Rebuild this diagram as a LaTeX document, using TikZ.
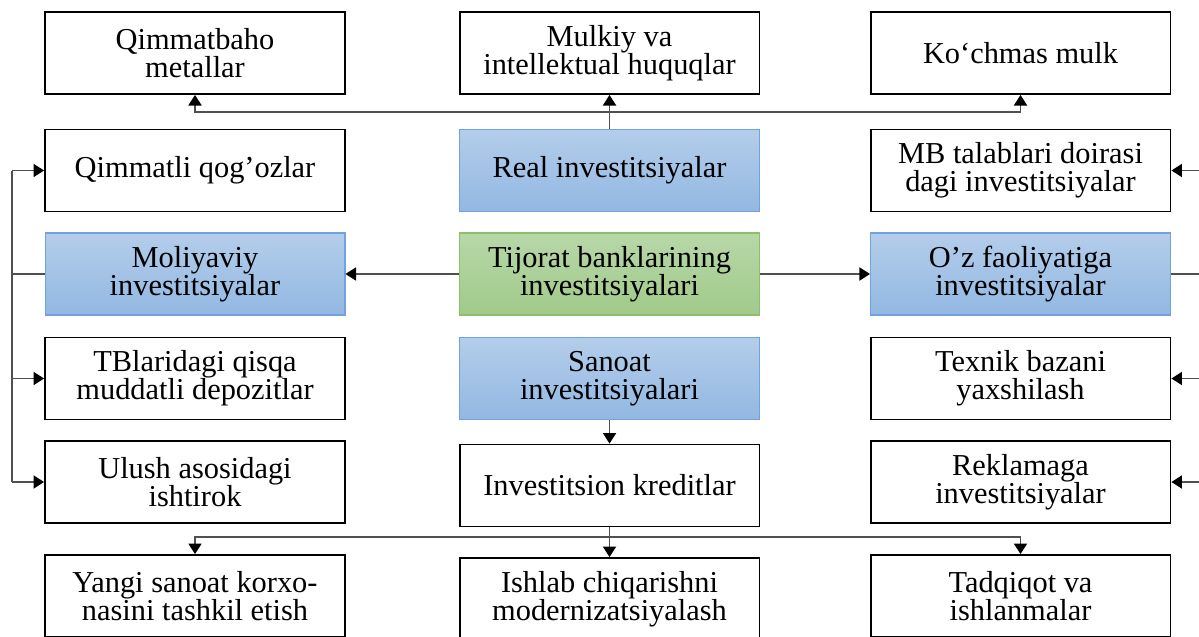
\documentclass[tikz,border=0pt]{standalone}
\usepackage{fontspec}
\setmainfont{Liberation Serif}
\usetikzlibrary{arrows.meta}
\definecolor{blueTop}{RGB}{180,205,234}
\definecolor{blueBot}{RGB}{146,184,226}
\definecolor{blueLine}{RGB}{112,162,222}
\definecolor{greenTop}{RGB}{184,215,168}
\definecolor{greenBot}{RGB}{160,202,138}
\definecolor{greenLine}{RGB}{140,190,108}
\definecolor{connGray}{RGB}{80,80,80}
\tikzset{
  box/.style={draw, line width=1.1pt, minimum width=6cm, minimum height=1.64cm,
    align=center, inner sep=0pt, font=\fontsize{17.3}{16}\selectfont},
  bluebox/.style={box, draw=blueLine, line width=0.6pt, top color=blueTop, bottom color=blueBot},
  greenbox/.style={box, draw=greenLine, line width=0.6pt, top color=greenTop, bottom color=greenBot},
  conn/.style={draw=connGray, line width=0.7pt},
  arr/.style={conn, -{Triangle[length=6pt,width=7.5pt,color=black,fill=black]}}
}
\begin{document}
\begin{tikzpicture}[x=0.02cm, y=-0.02cm]
  \clip (0,0) rectangle (1199,636);
  % top row
  \node[box] (qimb)  at (195,53)    {Qimmatbaho\\metallar};
  \node[box] (mulk)  at (609.5,53)  {Mulkiy va\\intellektual huquqlar};
  \node[box] (kochm) at (1020.5,53) {Ko‘chmas mulk};
  % second row
  \node[box]     (qimq) at (195,170.5)    {Qimmatli qog’ozlar};
  \node[bluebox] (real) at (609.5,170.5)  {Real investitsiyalar};
  \node[box]     (mbt)  at (1020.5,170.5) {MB talablari doirasi\\dagi investitsiyalar};
  % middle row
  \node[bluebox]  (moliy) at (195,274)    {Moliyaviy\\investitsiyalar};
  \node[greenbox] (tij)   at (609.5,274)  {Tijorat banklarining\\investitsiyalari};
  \node[bluebox]  (ozf)   at (1020.5,274) {O’z faoliyatiga\\investitsiyalar};
  % fourth row
  \node[box]     (tbl)    at (195,378.5)    {TBlaridagi qisqa\\muddatli depozitlar};
  \node[bluebox] (sanoat) at (609.5,378.5)  {Sanoat\\investitsiyalari};
  \node[box]     (texn)   at (1020.5,378.5) {Texnik bazani\\yaxshilash};
  % fifth row
  \node[box] (ulush)  at (195,482)    {Ulush asosidagi\\ishtirok};
  \node[box] (kredit) at (609.5,485.5) {Investitsion kreditlar};
  \node[box] (rekl)   at (1020.5,482) {Reklamaga\\investitsiyalar};
  % bottom row (cut by the page edge)
  \node[box] (yangi)  at (195,596)    {Yangi sanoat korxo-\\nasini tashkil etish};
  \node[box] (ishlab) at (609.5,599)  {Ishlab chiqarishni\\modernizatsiyalash};
  \node[box] (tadq)   at (1020.5,596) {Tadqiqot va\\ishlanmalar};
  % real investments branch
  \coordinate (hub) at (609.5,112);
  \draw[arr] (real) -- (mulk);
  \draw[arr] (hub) -| (qimb.south);
  \draw[arr] (hub) -| (kochm.south);
  % from the centre to both sides
  \draw[arr] (tij) -- (moliy);
  \draw[arr] (tij) -- (ozf);
  % left bus
  \coordinate (lbus) at (12,274);
  \draw[conn] (moliy.west) -- (lbus);
  \draw[conn] (qimq -| lbus) -- (ulush -| lbus);
  \foreach \n in {qimq, tbl, ulush}
    \draw[arr] (\n -| lbus) -- (\n);
  % right bus (runs past the page edge)
  \coordinate (rbus) at (1215,274);
  \draw[conn] (ozf.east) -- (rbus);
  \draw[conn] (mbt -| rbus) -- (rekl -| rbus);
  \foreach \n in {mbt, texn, rekl}
    \draw[arr] (\n -| rbus) -- (\n);
  % industrial investments branch
  \coordinate (bhub) at (609.5,537);
  \draw[arr] (sanoat) -- (kredit);
  \draw[arr] (kredit) -- (ishlab);
  \draw[arr] (bhub) -| (yangi.north);
  \draw[arr] (bhub) -| (tadq.north);
\end{tikzpicture}
\end{document}
